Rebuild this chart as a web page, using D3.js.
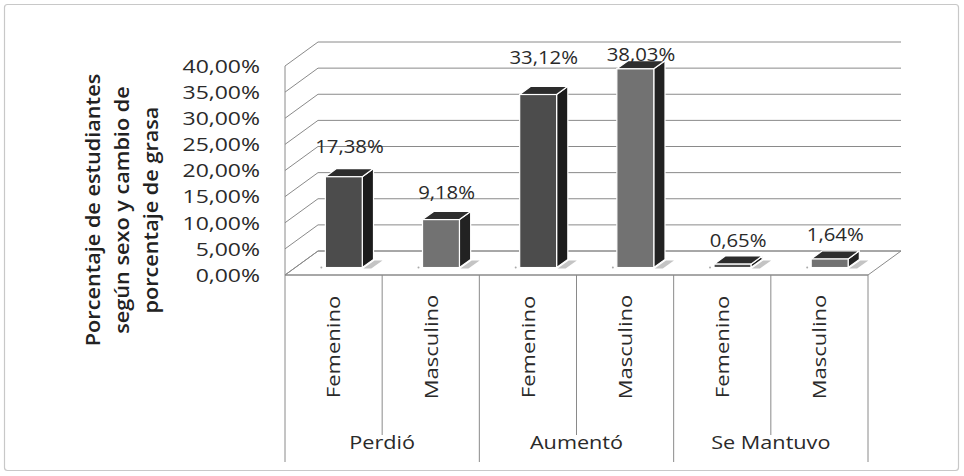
<!DOCTYPE html>
<html>
<head>
<meta charset="utf-8">
<script src="https://cdn.jsdelivr.net/npm/d3@7"></script>
<style>
  html, body { margin: 0; padding: 0; background: #fff; }
  svg { display: block; font-family: "Open Sans", "DejaVu Sans", sans-serif; }
</style>
</head>
<body>
<svg id="chart" width="964" height="476"></svg>
<script>
// Grupos de cambio y sexo
const groups = ["Perdió", "Aumentó", "Se Mantuvo"];
const sexes = ["Femenino", "Masculino"];
// Porcentaje por grupo y sexo (en el orden de groups × sexes)
const values = [0.1738, 0.0918, 0.3312, 0.3803, 0.0065, 0.0164];
const valueLabels = ["17,38%", "9,18%", "33,12%", "38,03%", "0,65%", "1,64%"];
const yTicks = [0, 0.05, 0.10, 0.15, 0.20, 0.25, 0.30, 0.35, 0.40];
const yTickLabels = ["0,00%", "5,00%", "10,00%", "15,00%", "20,00%", "25,00%", "30,00%", "35,00%", "40,00%"];
const yTitle = ["Porcentaje de estudiantes", "según sexo y cambio de", "porcentaje de grasa"];

const svg = d3.select("#chart");

// Texto ensanchado a lo largo de su dirección
function wideText(parent, str, x, y, opts) {
  const o = Object.assign({ size: 19, sx: 1.15, rot: 0, anchor: "middle", weight: "normal", fill: "#2a2a2a" }, opts || {});
  return parent.append("text")
    .attr("transform", `translate(${x},${y}) rotate(${o.rot}) scale(${o.sx},1)`)
    .attr("text-anchor", o.anchor).attr("dy", "0.36em")
    .attr("font-size", o.size).attr("font-weight", o.weight).attr("fill", o.fill)
    .text(str);
}

// Marco exterior
svg.append("rect").attr("x", 4.5).attr("y", 4.5).attr("width", 954).attr("height", 466)
  .attr("rx", 3).attr("fill", "#fff").attr("stroke", "#c8c8c8").attr("stroke-width", 1.2);

// Geometría de la escena 3D
const left = 285, right = 868;
const DX = 33, DY = -24;            // desplazamiento de profundidad (frente -> fondo)
const t0 = 0.31, t1 = 0.65;         // profundidad de las columnas

const cats = [];
groups.forEach(g => sexes.forEach(s => cats.push(g + "|" + s)));

const x = d3.scaleBand().domain(cats).range([left, right]).paddingInner(0).paddingOuter(0);
const y = d3.scaleLinear().domain([0, 0.40]).range([275, 66]);
const P = (px, v, t) => [px + t * DX, y(v) + t * DY];
const poly = pts => pts.map(p => p.join(",")).join(" ");

const gridColor = "#8a8a8a";

// Piso
svg.append("polygon")
  .attr("points", poly([P(left, 0, 0), P(right, 0, 0), P(right, 0, 1), P(left, 0, 1)]))
  .attr("fill", "#fff").attr("stroke", gridColor).attr("stroke-width", 1);

// Líneas de división (pared lateral + pared de fondo)
yTicks.forEach(v => {
  svg.append("polyline").attr("points", poly([P(left, v, 0), P(left, v, 1), P(right, v, 1)]))
    .attr("fill", "none").attr("stroke", gridColor).attr("stroke-width", 1);
});

// Eje vertical
svg.append("line").attr("x1", left).attr("x2", left).attr("y1", y(0)).attr("y2", y(0.40))
  .attr("stroke", gridColor).attr("stroke-width", 1);

// Etiquetas del eje Y
const tickG = svg.append("g");
yTicks.forEach((v, i) => wideText(tickG, yTickLabels[i], 260, y(v), { anchor: "end", size: 19, sx: 1.21 }));

// Título del eje Y
const titleG = svg.append("g");
yTitle.forEach((t, i) => wideText(titleG, t, 93 + i * 29, 210, { rot: -90, size: 19, sx: 1.14, weight: 600, fill: "#222" }));

// Tabla de categorías bajo el piso
const axisG = svg.append("g");
axisG.append("line").attr("x1", left).attr("x2", right).attr("y1", y(0)).attr("y2", y(0))
  .attr("stroke", gridColor);
cats.forEach((c, i) => {
  const xx = x(c);
  axisG.append("line").attr("x1", xx).attr("x2", xx).attr("y1", y(0))
    .attr("y2", i % 2 === 0 ? 462 : 435).attr("stroke", gridColor);
});
axisG.append("line").attr("x1", right).attr("x2", right).attr("y1", y(0)).attr("y2", 462)
  .attr("stroke", gridColor);

// Etiquetas de sexo (verticales)
cats.forEach(c => {
  wideText(axisG, c.split("|")[1], x(c) + x.bandwidth() / 2, 347, { rot: -90, size: 19, sx: 1.16 });
});
// Etiquetas de grupo
groups.forEach(g => {
  wideText(axisG, g, x(g + "|" + sexes[0]) + x.bandwidth(), 442, { size: 19, sx: 1.14 });
});

// Columnas 3D
const colors = {
  Femenino: { front: "#4c4c4c", side: "#1c1c1c", top: "#2c2c2c" },
  Masculino: { front: "#727272", side: "#222222", top: "#2e2e2e" }
};
const bw = x.bandwidth() * 0.38;
const ddx = (t1 - t0) * DX, ddy = (t1 - t0) * DY;
const barsG = svg.append("g");

cats.forEach((c, i) => {
  const v = values[i];
  const col = colors[c.split("|")[1]];
  const fx = x(c) + (x.bandwidth() - bw) / 2;
  const [x0, yTop] = P(fx, v, t0);
  const yBot = P(fx, 0, t0)[1];
  const x1 = x0 + bw;

  // sombra sobre el piso
  barsG.append("polygon")
    .attr("points", poly([[x1 + 1, yBot + 1], [x1 + 9, yBot + 1], [x1 + 9 + ddx, yBot + 1 + ddy], [x1 + 1 + ddx, yBot + 1 + ddy]]))
    .attr("fill", "#c4c4c4");
  // pequeña marca en la base
  barsG.append("circle").attr("cx", x0 - 4).attr("cy", yBot).attr("r", 1).attr("fill", "#aaa");

  // cara lateral
  barsG.append("polygon")
    .attr("points", poly([[x1, yTop], [x1 + ddx, yTop + ddy], [x1 + ddx, yBot + ddy], [x1, yBot]]))
    .attr("fill", col.side).attr("stroke", "#fff").attr("stroke-width", 1.2).attr("stroke-linejoin", "round");
  // cara superior
  barsG.append("polygon")
    .attr("points", poly([[x0, yTop], [x1, yTop], [x1 + ddx, yTop + ddy], [x0 + ddx, yTop + ddy]]))
    .attr("fill", col.top).attr("stroke", "#fff").attr("stroke-width", 1.2).attr("stroke-linejoin", "round");
  // cara frontal
  barsG.append("rect").attr("x", x0).attr("y", yTop).attr("width", bw).attr("height", Math.max(0, yBot - yTop))
    .attr("fill", col.front).attr("stroke", "#fff").attr("stroke-width", 1.2);

  // etiqueta de valor, sobre la cara superior y dentro del área del gráfico
  const backTop = yTop + ddy;
  const ly = Math.max(backTop - (35 - 0.075 * backTop), 55);
  wideText(barsG, valueLabels[i], x0 + bw / 2 + ddx / 2, ly, { size: 18, sx: 1.13 });
});
</script>
</body>
</html>
